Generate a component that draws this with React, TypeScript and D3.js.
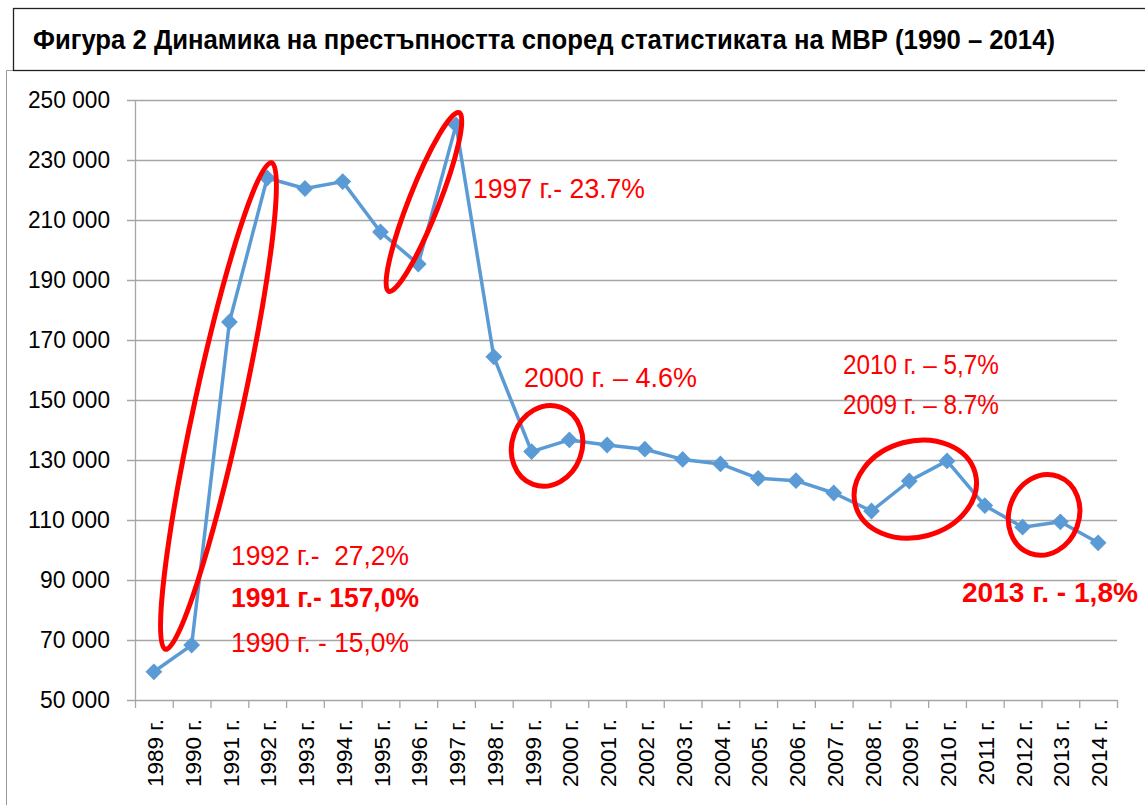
import React, { useEffect, useRef } from 'react';
import * as d3 from 'd3';

const years = [
  '1989 г.', '1990 г.', '1991 г.', '1992 г.', '1993 г.', '1994 г.', '1995 г.', '1996 г.', '1997 г.',
  '1998 г.', '1999 г.', '2000 г.', '2001 г.', '2002 г.', '2003 г.', '2004 г.', '2005 г.', '2006 г.',
  '2007 г.', '2008 г.', '2009 г.', '2010 г.', '2011 г.', '2012 г.', '2013 г.', '2014 г.',
];
const crimes = [
  59400, 68300, 176000, 224000, 220500, 222800, 206000, 195300, 241700,
  164400, 132800, 136700, 135000, 133600, 130200, 128700, 123900, 123100,
  119000, 113000, 123000, 129700, 114800, 107600, 109400, 102400,
];
const yTicks = [50000, 70000, 90000, 110000, 130000, 150000, 170000, 190000, 210000, 230000, 250000];

const title = 'Фигура 2 Динамика на престъпността според статистиката на МВР (1990 – 2014)';

// red notes: text, left x, baseline y, width, bold
const notes = [
  { t: '1997 г.- 23.7%', x: 473, y: 198, w: 172, bold: false },
  { t: '2000 г. – 4.6%', x: 524, y: 387, w: 173, bold: false },
  { t: '2010 г. – 5,7%', x: 843, y: 374, w: 156, bold: false },
  { t: '2009 г. – 8.7%', x: 843, y: 414, w: 156, bold: false },
  { t: '1992 г.-  27,2%', x: 231, y: 565, w: 178, bold: false },
  { t: '1991 г.- 157,0%', x: 231, y: 607, w: 188, bold: true },
  { t: '1990 г. - 15,0%', x: 231, y: 652, w: 178, bold: false },
  { t: '2013 г. - 1,8%', x: 962, y: 602, w: 176, bold: true },
];

// circled regions: centre as (category index, value), radii px, rotation deg
const rings = [
  { i: 1.71, v: 148000, rx: 24, ry: 249, rot: 12.3 },
  { i: 7.15, v: 216000, rx: 15, ry: 96, rot: 21.5 },
  { i: 10.41, v: 134700, rx: 35, ry: 41, rot: 20 },
  { i: 20.16, v: 120300, rx: 62, ry: 48, rot: -15 },
  { i: 23.57, v: 111700, rx: 35, ry: 41, rot: 20 },
];

const W = 1145, H = 805;
const left = 135, right = 1117, top = 100, bottom = 700;
const FONT = '"Liberation Sans", Arial, sans-serif';

const App: React.FC = () => {
  const ref = useRef<SVGSVGElement | null>(null);

  useEffect(() => {
    if (!ref.current) return;
    const svg = d3.select(ref.current);
    svg.selectAll('*').remove();

    const x = d3.scaleBand<string>().domain(years).range([left, right]).padding(0);
    const xi = d3.scaleLinear().domain([0, years.length]).range([left, right]);
    const y = d3.scaleLinear().domain([50000, 250000]).range([bottom, top]);
    const fmt = d3.formatLocale({ decimal: ',', thousands: ' ', grouping: [3], currency: ['', ''] }).format(',');

    svg.append('rect').attr('width', W).attr('height', H).attr('fill', '#fff');

    // outer chart frame
    svg.append('path').attr('d', `M6.5,${H} V70.5 H${W}`).attr('fill', 'none').attr('stroke', '#9a9a9a');

    // title box
    svg.append('rect').attr('x', 13.5).attr('y', 8.5).attr('width', W + 10).attr('height', 62)
      .attr('fill', '#fff').attr('stroke', '#222').attr('stroke-width', 1.3);
    svg.append('text').attr('x', 33).attr('y', 49).attr('font-family', FONT).attr('font-size', 27)
      .attr('font-weight', 'bold').attr('fill', '#000')
      .attr('textLength', 1022).attr('lengthAdjust', 'spacingAndGlyphs').text(title);

    // grid + y axis
    const gy = svg.append('g');
    yTicks.forEach((t) => {
      gy.append('line').attr('x1', left - 8).attr('x2', right).attr('y1', y(t) + 0.5).attr('y2', y(t) + 0.5)
        .attr('stroke', '#a6a6a6').attr('stroke-width', 1.3);
      gy.append('text').attr('x', 110).attr('y', y(t)).attr('dy', '0.36em').attr('text-anchor', 'end')
        .attr('font-family', FONT).attr('font-size', 23.5).attr('fill', '#000')
        .attr('textLength', t >= 100000 ? 82 : 70).attr('lengthAdjust', 'spacingAndGlyphs').text(fmt(t));
    });
    gy.append('line').attr('x1', left + 0.5).attr('x2', left + 0.5).attr('y1', top).attr('y2', bottom)
      .attr('stroke', '#a6a6a6').attr('stroke-width', 1.3);

    // x axis ticks + labels
    const gx = svg.append('g');
    d3.range(years.length + 1).forEach((k) => {
      gx.append('line').attr('x1', xi(k) + 0.5).attr('x2', xi(k) + 0.5).attr('y1', bottom).attr('y2', bottom + 8)
        .attr('stroke', '#a6a6a6').attr('stroke-width', 1.3);
    });
    years.forEach((yr) => {
      const cx = (x(yr) as number) + x.bandwidth() / 2;
      gx.append('text').attr('transform', `translate(${cx + 1},719) rotate(-90)`).attr('dy', '0.36em')
        .attr('text-anchor', 'end').attr('font-family', FONT).attr('font-size', 22.5).attr('fill', '#000').text(yr);
    });

    // series
    const pts = crimes.map((v, k) => [(x(years[k]) as number) + x.bandwidth() / 2, y(v)] as [number, number]);
    svg.append('path').attr('d', d3.line()(pts)).attr('fill', 'none').attr('stroke', '#5b9bd5')
      .attr('stroke-width', 3.5).attr('stroke-linejoin', 'round');
    const diamond = d3.symbol().type(d3.symbolDiamond2).size(180)();
    svg.append('g').selectAll('path').data(pts).enter().append('path')
      .attr('transform', (d) => `translate(${d[0]},${d[1]})`).attr('d', diamond as string).attr('fill', '#5b9bd5');

    // red rings
    rings.forEach((r) => {
      svg.append('ellipse').attr('transform', `translate(${xi(r.i + 0.5)},${y(r.v)}) rotate(${r.rot})`)
        .attr('rx', r.rx).attr('ry', r.ry).attr('fill', 'none').attr('stroke', '#ff0000').attr('stroke-width', 5);
    });

    // red notes
    notes.forEach((n) => {
      svg.append('text').attr('x', n.x).attr('y', n.y).attr('font-family', FONT).attr('font-size', 28)
        .attr('font-weight', n.bold ? 'bold' : 'normal').attr('fill', '#ff0000')
        .attr('textLength', n.w).attr('lengthAdjust', 'spacingAndGlyphs').attr('xml:space', 'preserve').text(n.t);
    });
  }, []);

  return (
    <div style={{ position: 'absolute', left: 0, top: 0 }}>
      <svg ref={ref} width={W} height={H} style={{ display: 'block' }} />
    </div>
  );
};

export default App;
